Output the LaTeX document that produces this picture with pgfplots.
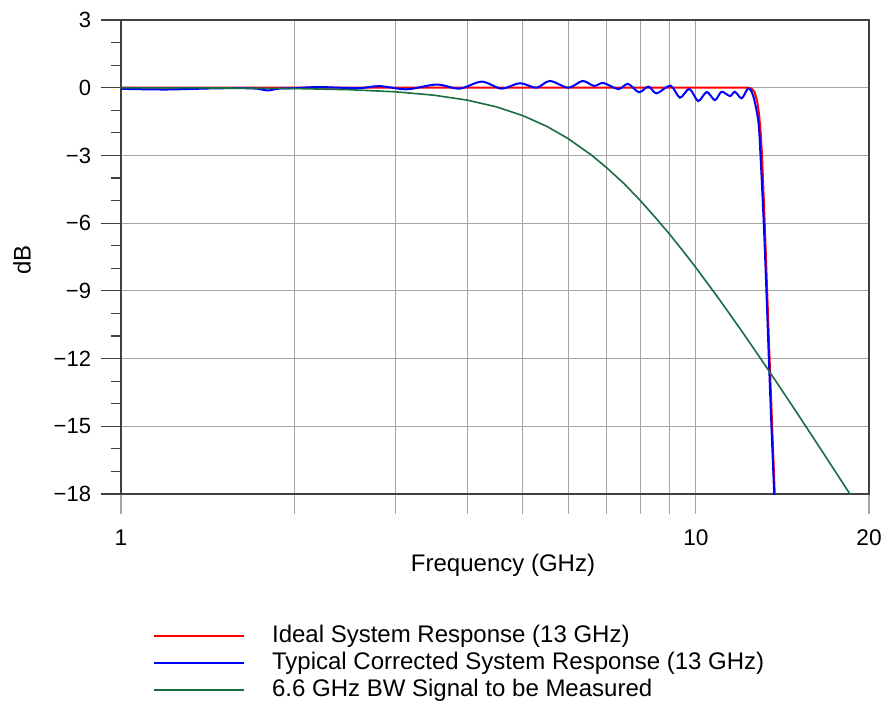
\documentclass[border=0pt]{standalone}
\usepackage{fontspec}
\setmainfont{Liberation Sans}
\usepackage{pgfplots}
\pgfplotsset{compat=1.18}
\definecolor{axisdark}{RGB}{64,64,64}
\definecolor{gridgray}{RGB}{165,165,165}
\definecolor{sigred}{RGB}{255,0,0}
\definecolor{sigblue}{RGB}{0,0,255}
\definecolor{siggreen}{RGB}{25,110,65}
\begin{document}
\begin{tikzpicture}
\useasboundingbox (-90.75pt,-165.75pt) rectangle (575.25pt,370.5pt);
\begin{axis}[
  at={(0pt,0pt)}, anchor=south west,
  scale only axis,
  width=561pt, height=355.5pt,
  xmode=log, xmin=1, xmax=20,
  ymin=-18, ymax=3,
  xtick={1,2,3,4,5,6,7,8,9,10,20},
  xticklabels={1,,,,,,,,,10,20},
  ytick={-18,-15,-12,-9,-6,-3,0,3},
  yticklabels={−18,−15,−12,−9,−6,−3,0,3},
  minor ytick={-17,-16,-14,-13,-11,-10,-8,-7,-5,-4,-2,-1,1,2},
  tick align=outside,
  major tick length=15pt,
  minor tick length=7.5pt,
  xtick pos=bottom, ytick pos=left,
  x tick style={color=gridgray, line width=0.8pt},
  y tick style={color=axisdark, line width=0.9pt},
  grid=major,
  major grid style={color=gridgray, line width=0.8pt},
  minor grid style={draw=none},
  axis line style={color=axisdark, line width=1.1pt},
  yticklabel style={font=\fontsize{16.5}{19}\selectfont, xshift=-4pt},
  xticklabel style={font=\fontsize{17}{20}\selectfont, yshift=-8.5pt},
  xlabel={Frequency (GHz)},
  ylabel={dB},
  xlabel style={font=\fontsize{18}{21}\selectfont, at={(axis description cs:0.5107,-0.1498)}, anchor=center},
  ylabel style={font=\fontsize{18}{21}\selectfont, at={(axis description cs:-0.1324,0.4937)}, anchor=center},
  legend style={draw=none, fill=none, at={(axis description cs:0.043,-0.2747)}, anchor=north west,
    inner sep=0pt, row sep=2.75pt, column sep=20pt,
    font=\fontsize{18}{21}\selectfont,
    nodes={inner sep=0pt, text height=13.5pt, text depth=4pt}},
  legend cell align=left,
  legend image code/.code={\draw[#1] (0pt,0pt) -- (67.5pt,0pt);},
]
\addplot[color=sigred, line width=1.5pt] coordinates {
(1,0) (12.3,0) (12.5,-0.04) (12.65,-0.2) (12.78,-0.6) (12.88,-1.2) (12.96,-2.0)
(13.03,-3) (13.17,-6) (13.30,-9) (13.43,-12) (13.57,-15) (13.71,-18) (13.8,-20)
};
\addlegendentry{Ideal System Response (13 GHz)}
\addplot[color=sigblue, line width=1.5pt, smooth, tension=0.5] coordinates {
(1,-0.05) (1.1,-0.07) (1.2,-0.08) (1.3,-0.06) (1.45,-0.03) (1.6,-0.02) (1.72,-0.04)
(1.8,-0.12) (1.88,-0.04) (2.0,-0.02) (2.2,0.03) (2.4,0.0) (2.6,-0.02) (2.82,0.07)
(3.14,-0.07) (3.54,0.14) (3.88,-0.04) (4.24,0.27) (4.59,-0.04) (4.94,0.2) (5.28,0)
(5.57,0.3) (6.0,0) (6.35,0.3) (6.65,0.08) (6.9,0.21) (7.33,-0.06) (7.62,0.17)
(7.96,-0.2) (8.27,0.05) (8.54,-0.25) (9.03,0.09) (9.38,-0.44) (9.74,-0.05)
(10.09,-0.59) (10.44,-0.19) (10.79,-0.55) (11.08,-0.18) (11.46,-0.37) (11.69,-0.18)
(12.01,-0.47) (12.33,-0.03) (12.58,-0.37) (12.84,-1.5) (12.95,-3) (13.12,-6)
(13.26,-9) (13.39,-12) (13.53,-15) (13.68,-18) (13.75,-19.5)
};
\addlegendentry{Typical Corrected System Response (13 GHz)}
\addplot[color=siggreen, line width=1.2pt] coordinates {
(1,-0.0023) (1.5,-0.0116) (2,-0.0365) (2.5,-0.0885) (3,-0.1814) (3.5,-0.3306)
(4,-0.548) (4.5,-0.850) (5,-1.238) (5.5,-1.708) (6,-2.261) (6.6,-3.010)
(7,-3.552) (7.5,-4.25) (8,-4.995) (8.5,-5.75) (9,-6.492) (9.5,-7.24) (10,-7.973) (11,-9.403) (12,-10.766)
(13,-12.055) (14,-13.273) (15,-14.422) (16,-15.507) (17,-16.535) (18,-17.507)
(19,-18.43) (20,-19.3)
};
\addlegendentry{6.6 GHz BW Signal to be Measured}
\end{axis}
\end{tikzpicture}
\end{document}
